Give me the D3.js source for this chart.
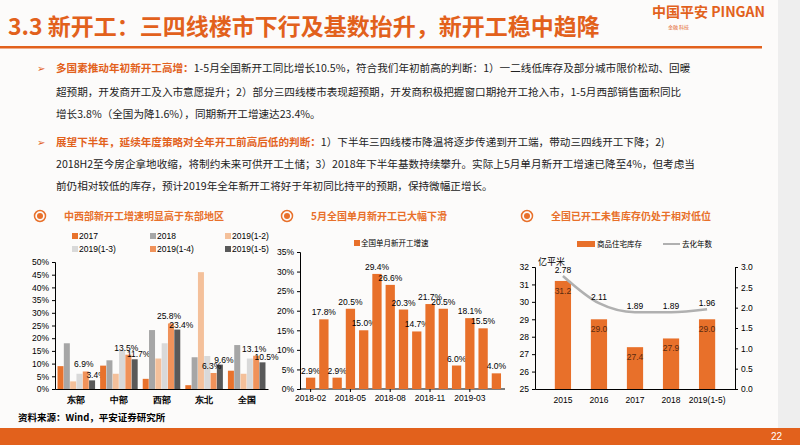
<!DOCTYPE html>
<html><head><meta charset="utf-8">
<script src="https://cdn.jsdelivr.net/npm/d3@7"></script>
<style>body{margin:0;background:#fff}svg{display:block;font-family:"Noto Sans CJK SC",sans-serif}</style>
</head><body><svg id="s" width="800" height="445"></svg>
<script>
const regions=["东部","中部","西部","东北","全国"];
const seriesNames=["2017","2018","2019(1-2)","2019(1-3)","2019(1-4)","2019(1-5)"];
const regionValues=[[9,18,3,6,6.9,3.4],[9.2,11.3,6,15.5,13.5,11.7],[4,23.2,12,18,25.8,23.4],[1.5,12.5,46,13,6.3,9.6],[7.2,17.3,6,12,13.1,10.5]];
const regionLabels={"东部":[4,5],"中部":[4,5],"西部":[4,5],"东北":[4,5],"全国":[4,5]};
const months=["2018-02","2018-03","2018-04","2018-05","2018-06","2018-07","2018-08","2018-09","2018-10","2018-11","2018-12","2019-02","2019-03","2019-04","2019-05"];
const monthValues=[2.9,17.8,2.9,20.5,15.0,29.4,26.6,20.3,14.7,21.7,20.5,6.0,18.1,15.5,4.0];
const monthTicks=["2018-02","2018-05","2018-08","2018-11","2019-03"];
const years=["2015","2016","2017","2018","2019(1-5)"];
const inventory=[31.2,29.0,27.4,27.9,29.0];
const yearsToSell=[2.78,2.11,1.89,1.89,1.96];

const svg=d3.select("#s");
const OR="#e8702a";
svg.append("rect").attr("width",800).attr("height",445).attr("fill","#fcfbfa");
svg.append("text").attr("x",8).attr("y",35).attr("fill","#e2611c").attr("font-size",23).attr("font-weight","bold").text("3.3 新开工：三四线楼市下行及基数抬升，新开工稳中趋降");
svg.append("text").attr("x",652).attr("y",17).attr("fill","#e2611c").attr("font-size",14).attr("font-weight","bold").text("中国平安 PINGAN");
svg.append("text").attr("x",668).attr("y",29).attr("fill","#e2611c").attr("font-size",5).text("金融 科技");
svg.append("rect").attr("x",0).attr("y",46).attr("width",762).attr("height",2.5).attr("fill","#e2611c");
svg.append("rect").attr("x",778).attr("y",0).attr("width",22).attr("height",445).attr("fill","#eeeeee");
const para=[
 [72,"多国素推动年初新开工高增：","1-5月全国新开工同比增长10.5%，符合我们年初前高的判断：1）一二线低库存及部分城市限价松动、回暖"],
 [96,"","超预期，开发商开工及入市意愿提升；2）部分三四线楼市表现超预期，开发商积极把握窗口期抢开工抢入市，1-5月西部销售面积同比"],
 [118,"","增长3.8%（全国为降1.6%），同期新开工增速达23.4%。"],
 [146,"展望下半年，延续年度策略对全年开工前高后低的判断：","1）下半年三四线楼市降温将逐步传递到开工端，带动三四线开工下降；2)"],
 [168,"","2018H2至今房企拿地收缩，将制约未来可供开工土储；3）2018年下半年基数持续攀升。实际上5月单月新开工增速已降至4%，但考虑当"],
 [190,"","前仍相对较低的库存，预计2019年全年新开工将好于年初同比持平的预期，保持微幅正增长。"]];
para.forEach(([y,h,t],i)=>{
  if(h) svg.append("text").attr("x",37).attr("y",y).attr("font-size",10).attr("fill","#e2611c").text("➢");
  const tx=svg.append("text").attr("x",56).attr("y",y).attr("font-size",10.6).attr("fill","#222");
  if(h) tx.append("tspan").attr("fill","#e2611c").attr("font-weight","bold").text(h);
  tx.append("tspan").text(t);
});
function sub(x,t){
  svg.append("circle").attr("cx",x).attr("cy",216).attr("r",5.5).attr("fill","none").attr("stroke",OR).attr("stroke-width",1.5);
  svg.append("circle").attr("cx",x).attr("cy",216).attr("r",3).attr("fill",OR);
  svg.append("text").attr("x",x+24).attr("y",220).attr("font-size",10).attr("font-weight","bold").attr("fill",OR).text(t);
}
sub(40,"中西部新开工增速明显高于东部地区");
sub(287,"5月全国单月新开工已大幅下滑");
sub(527,"全国已开工未售库存仍处于相对低位");

// chart1
const cols=["#e8722c","#a6a6a6","#f4c09a","#d9d9d9","#f0925a","#595959"];
const y1=d3.scaleLinear().domain([0,50]).range([389,262]);
const x1=d3.scaleBand().domain(regions).range([55,268]);
const xs=d3.scaleBand().domain(seriesNames).range([0,x1.bandwidth()]).paddingInner(0.05).paddingOuter(0.4);
const g1=svg.append("g");
g1.append("g").attr("transform","translate(55,0)").call(d3.axisLeft(y1).ticks(10).tickFormat(d=>d+"%").tickSize(3)).call(a=>{a.selectAll("text").attr("font-size",8.5).attr("font-family","Arial");});
g1.append("g").attr("transform","translate(0,389)").call(d3.axisBottom(x1).tickSize(0)).call(a=>{a.selectAll("text").attr("font-size",9).attr("dy","1.2em").attr("font-weight","bold");});
regions.forEach((r,i)=>{
  regionValues[i].forEach((v,j)=>{
    g1.append("rect").attr("x",x1(r)+xs(seriesNames[j])).attr("width",xs.bandwidth()).attr("y",y1(v)).attr("height",389-y1(v)).attr("fill",cols[j]);
  });
  regionLabels[r].forEach(j=>{
    const v=regionValues[i][j];
    g1.append("text").attr("x",x1(r)+xs(seriesNames[j])+xs.bandwidth()/2+(j==5?4:-2)).attr("y",y1(v)-(j==5?2:4)).attr("text-anchor","middle").attr("font-size",8.5).attr("font-family","Arial").text(v.toFixed(1)+"%");
  });
});
seriesNames.forEach((n,j)=>{
  const lx=[72,150,225][j%3], ly=j<3?239:252;
  g1.append("rect").attr("x",lx).attr("y",ly-6).attr("width",6).attr("height",6).attr("fill",cols[j]);
  g1.append("text").attr("x",lx+7).attr("y",ly).attr("font-size",8.5).attr("font-family","Arial").text(n);
});
svg.append("text").attr("x",18).attr("y",421).attr("font-size",9.5).attr("font-weight","bold").text("资料来源：Wind，平安证券研究所");

// chart2
const y2=d3.scaleLinear().domain([0,35]).range([389,252]);
const x2=d3.scaleBand().domain(months).range([302,505]).padding(0.3);
svg.append("g").attr("transform","translate(300,0)").call(d3.axisLeft(y2).ticks(7).tickFormat(d=>d+"%").tickSize(3)).call(a=>{a.selectAll("text").attr("font-size",8.5).attr("font-family","Arial");});
svg.append("g").attr("transform","translate(0,389)").call(d3.axisBottom(x2).tickValues(monthTicks).tickSize(3)).call(a=>{a.select(".domain").attr("d","M300,0H505");a.selectAll("text").attr("font-size",8.5).attr("font-family","Arial");});
months.forEach((m,i)=>{
  svg.append("rect").attr("x",x2(m)).attr("width",x2.bandwidth()).attr("y",y2(monthValues[i])).attr("height",389-y2(monthValues[i])).attr("fill",OR);
  svg.append("text").attr("x",x2(m)+x2.bandwidth()/2).attr("y",y2(monthValues[i])-4).attr("text-anchor","middle").attr("font-size",8.5).attr("font-family","Arial").text(monthValues[i].toFixed(1)+"%");
});
svg.append("rect").attr("x",354).attr("y",240).attr("width",6).attr("height",6).attr("fill",OR);
svg.append("text").attr("x",361).attr("y",246).attr("font-size",7.5).text("全国单月新开工增速");

// chart3
const y3=d3.scaleLinear().domain([25,32]).range([389,267]);
const y3r=d3.scaleLinear().domain([0,3]).range([389,267]);
const x3=d3.scaleBand().domain(years).range([535,735]).padding(0.55);
svg.append("g").attr("transform","translate(535,0)").call(d3.axisLeft(y3).ticks(7).tickSize(3)).call(a=>{a.selectAll("text").attr("font-size",8.5).attr("font-family","Arial");});
svg.append("g").attr("transform","translate(735,0)").call(d3.axisRight(y3r).ticks(6).tickFormat(d3.format(".1f")).tickSize(3)).call(a=>{a.selectAll("text").attr("font-size",8.5).attr("font-family","Arial");});
svg.append("g").attr("transform","translate(0,389)").call(d3.axisBottom(x3).tickSize(0)).call(a=>{a.selectAll("text").attr("font-size",8.5).attr("font-family","Arial").attr("dy","1.3em");});
years.forEach((yv,i)=>{
  svg.append("rect").attr("x",x3(yv)).attr("width",x3.bandwidth()).attr("y",y3(inventory[i])).attr("height",389-y3(inventory[i])).attr("fill",OR);
  svg.append("text").attr("x",x3(yv)+x3.bandwidth()/2).attr("y",y3(inventory[i])+13).attr("text-anchor","middle").attr("font-size",8.5).attr("font-family","Arial").attr("fill","#5a2a10").text(inventory[i].toFixed(1));
});
const cx=d=>x3(d)+x3.bandwidth()/2;
svg.append("path").attr("d",d3.line().curve(d3.curveMonotoneX).x((d,i)=>cx(years[i])).y(d=>y3r(d))(yearsToSell)).attr("fill","none").attr("stroke","#b0b0b0").attr("stroke-width",2.5);
yearsToSell.forEach((v,i)=>svg.append("text").attr("x",cx(years[i])).attr("y",y3r(v)-3).attr("text-anchor","middle").attr("font-size",8.5).attr("font-family","Arial").text(v.toFixed(2)));
svg.append("text").attr("x",538).attr("y",265).attr("font-size",9).text("亿平米");
svg.append("rect").attr("x",577).attr("y",241).attr("width",18).attr("height",6).attr("fill",OR);
svg.append("text").attr("x",597).attr("y",247).attr("font-size",7.5).text("商品住宅库存");
svg.append("line").attr("x1",663).attr("x2",680).attr("y1",244).attr("y2",244).attr("stroke","#b0b0b0").attr("stroke-width",2);
svg.append("text").attr("x",682).attr("y",247).attr("font-size",7.5).text("去化年数");

svg.append("rect").attr("x",0).attr("y",428).attr("width",800).attr("height",17).attr("fill","#e2611c");
svg.append("text").attr("x",782).attr("y",440).attr("text-anchor","end").attr("fill","#fff").attr("font-size",10).attr("font-family","Arial").text("22");
</script></body></html>
